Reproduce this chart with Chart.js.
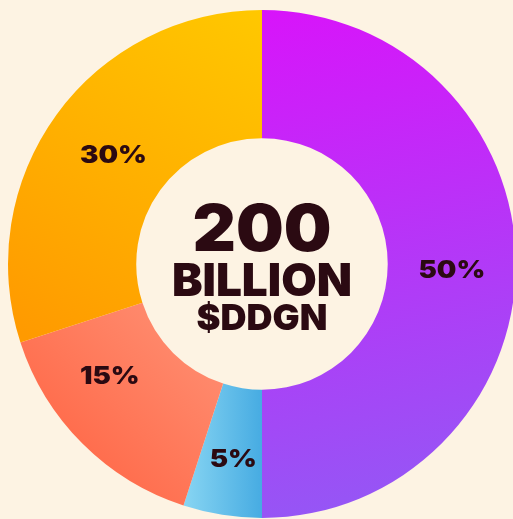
<!DOCTYPE html>
<html>
<head>
<meta charset="utf-8">
<script src="https://cdn.jsdelivr.net/npm/chart.js@4/dist/chart.umd.min.js"></script>
<style>
  html, body { margin: 0; padding: 0; background: #fdf3e3; overflow: hidden; }
  #wrap { position: absolute; left: 0; top: 0; width: 524px; height: 528px; }
</style>
</head>
<body>
<div id="wrap"><canvas id="chart"></canvas></div>
<script>
const labels = ['Allocation A', 'Allocation B', 'Allocation C', 'Allocation D'];
const shares = [50, 5, 15, 30];
const shareLabels = ['50%', '5%', '15%', '30%'];
const centerLines = ['200', 'BILLION', '$DDGN'];

// gradient stops per slice: [x0, y0, x1, y1] as fractions of the chart area, then colours
const gradients = [
  { dir: [0.5, 0, 0.7, 1], from: '#d814fa', to: '#9457f5' },
  { dir: [0.35, 0.5, 0.52, 0.5], from: '#86d4f2', to: '#3ea6e0' },
  { dir: [0.45, 0.6, 0.1, 0.95], from: '#ff9478', to: '#ff6443' },
  { dir: [0.5, 0, 0.05, 0.65], from: '#ffc800', to: '#ff9a00' }
];

function sliceColor(c) {
  const area = c.chart.chartArea;
  if (!area) return gradients[c.dataIndex].to;
  const g = gradients[c.dataIndex];
  const w = area.right - area.left, h = area.bottom - area.top;
  const grad = c.chart.ctx.createLinearGradient(
    area.left + g.dir[0] * w, area.top + g.dir[1] * h,
    area.left + g.dir[2] * w, area.top + g.dir[3] * h);
  grad.addColorStop(0, g.from);
  grad.addColorStop(1, g.to);
  return grad;
}

// draw wide heavy text by stretching horizontally
function wideText(ctx, text, x, y, size, stretch) {
  ctx.save();
  ctx.translate(x, y);
  ctx.scale(stretch, 1);
  ctx.font = '900 ' + size + 'px Inter, "DejaVu Sans", sans-serif';
  ctx.fillText(text, 0, 0);
  ctx.restore();
}

const textPlugin = {
  id: 'textPlugin',
  afterDatasetsDraw(chart) {
    const ctx = chart.ctx;
    const meta = chart.getDatasetMeta(0);
    // small nudges so labels sit where the designer put them
    const nudge = [[0, 7], [1, 8], [-18, -21], [5, 3]];
    ctx.save();
    ctx.fillStyle = '#2b0a12';
    ctx.textAlign = 'center';
    ctx.textBaseline = 'middle';
    meta.data.forEach((arc, i) => {
      const p = arc.getCenterPoint();
      wideText(ctx, shareLabels[i], p.x + nudge[i][0], p.y + nudge[i][1], 24, 1.15);
    });
    const cx = meta.data[0].x, cy = meta.data[0].y;
    wideText(ctx, centerLines[0], cx, cy - 32, 64, 1.05);
    wideText(ctx, centerLines[1], cx, cy + 18, 45, 1.02);
    wideText(ctx, centerLines[2], cx, cy + 55, 36, 1.0);
    ctx.restore();
  }
};

new Chart(document.getElementById('chart'), {
  type: 'doughnut',
  data: {
    labels: labels,
    datasets: [{
      data: shares,
      backgroundColor: sliceColor,
      borderWidth: 0
    }]
  },
  options: {
    responsive: true,
    maintainAspectRatio: false,
    animation: false,
    cutout: '49.5%',
    layout: { padding: { left: 8, right: 8, top: 10, bottom: 10 } },
    plugins: {
      legend: { display: false },
      tooltip: { enabled: false }
    }
  },
  plugins: [textPlugin]
});
</script>
</body>
</html>
